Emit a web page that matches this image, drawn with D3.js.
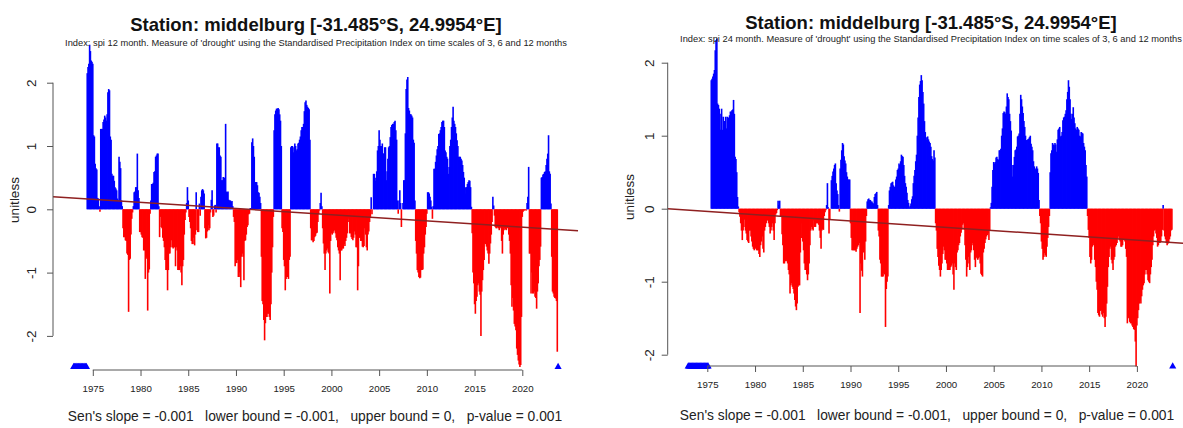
<!DOCTYPE html>
<html>
<head>
<meta charset="utf-8">
<script src="https://cdn.jsdelivr.net/npm/d3@7"></script>
<style>
  body { margin: 0; background: #fff; }
  svg { display: block; font-family: "Liberation Sans", Arial, Helvetica, sans-serif; }
</style>
</head>
<body>
<script>
(function(){
  var canvasWidth = 1183;
  var canvasHeight = 428;

  var stationTitle = "Station: middelburg [-31.485°S, 24.9954°E]";
  var subtitle12 = "Index: spi 12 month. Measure of 'drought' using the Standardised Precipitation Index on time scales of 3, 6 and 12 months";
  var subtitle24 = "Index: spi 24 month. Measure of 'drought' using the Standardised Precipitation Index on time scales of 3, 6 and 12 months";
  var statsText = "Sen's slope = -0.001   lower bound = -0.001,   upper bound = 0,   p-value = 0.001";
  var yLabel = "unitless";

  var xTicks = [1975, 1980, 1985, 1990, 1995, 2000, 2005, 2010, 2015, 2020];
  var yTicks = [-2, -1, 0, 1, 2];

  // monthly SPI-12, first value is June 1974
  var spi12Start = [1974, 6];
  var spi12 = [
    2.15, 2.25, 2.3, 2.6, 2.5, 2.35, 2.33,
    2.3, 1.17, 1.15, 0.72, 0.65, 0.63, 0.18, 0.17, 0.05, -0.04, 1.27, 1.27,
    1.27, 1.38, 1.42, 1.48, 1.45, 1.4, 1.5, 1.85, 1.9, 1.88, 1.15, 1.1,
    0.56, 0.53, 0.53, 0.45, 0.35, 0.33, 0.3, 0.17, 0.14, 0.83, 0.75, 0.65,
    0.14, 0.05, -0.3, -0.44, -0.44, -0.49, -0.5, -0.7, -0.72, -1.62, -0.8, -0.78,
    -0.4, -0.15, -0.05, 0.05, 0.27, 0.28, 0.35, 0.35, 0.88, 0.3, 0.18, -0.36,
    -0.36, -0.4, -0.44, -0.45, -0.65, -0.65, -1.1, -0.75, -0.78, -1.6, -1.0, -0.95,
    -0.07, 0.14, 0.4, 0.4, 0.42, 0.59, 0.6, 0.83, 0.85, 0.88, 0.88, 0.05,
    -0.44, -0.12, -0.28, -0.3, -0.45, -0.5, -0.6, -0.8, -0.96, -0.96, -1.28, -0.96,
    -0.7, -0.7, -0.6, -0.49, -0.6, -0.62, -0.6, -0.6, -0.9, -0.6, -0.65, -0.96,
    -0.96, -0.96, -0.9, -1.0, -1.2, -0.9, -0.8, -0.4, -0.17, -0.05, 0.1, 0.35,
    0.14, -0.12, -0.2, -0.3, -0.5, -0.55, -0.55, -0.45, -0.57, -0.4, 0.27, -0.33,
    -0.36, -0.36, 0.09, -0.1, 0.2, 0.3, 0.32, 0.3, 0.25, -0.3, -0.46, -0.45,
    -0.35, -0.25, -0.33, -0.3, -0.05, 0.15, 0.3, -0.12, -0.1, 0.06, 0.07, -0.05,
    1.04, 1.04, 0.98, 0.98, 0.85, 0.83, 0.46, 0.46, 0.51, 0.5, 0.5, 1.35,
    0.28, 0.27, 0.28, 0.15, 0.14, 0.14, 0.12, 0.13, 0.05, -0.12, -0.2, -0.9,
    -0.85, -0.85, -0.8, -1.07, -1.0, -1.07, -1.23, -0.75, -0.7, -0.75, -1.12, -0.5,
    -0.49, -0.4, -0.28, -0.25, -0.08, -0.07, 0.02, 0.02, 1.06, 1.12, 1.0, 0.83,
    0.43, 0.43, 0.43, 0.38, 0.27, 0.26, 0.2, 0.1, -0.75, -1.45, -1.5, -1.75,
    -2.07, -1.8, -1.7, -1.7, -1.65, -1.65, -1.7, -1.75, -1.5, -1.0, -0.6, -0.12,
    1.25, 1.5, 1.56, 1.59, 1.59, 1.6, 1.58, 1.5, 1.4, 1.0, -0.3, -0.36,
    -0.8, -0.9, -1.28, -1.1, -1.07, -1.07, -1.1, -0.8, -0.75, 0.98, 1.0, 1.0,
    0.9, 0.98, 1.04, 1.0, 0.93, 0.95, 1.04, 1.05, 1.1, 1.15, 1.25, 1.3,
    1.3, 1.35, 1.55, 1.69, 1.72, 1.65, 1.62, 1.6, 1.58, 1.1, -0.3, -0.49,
    -0.49, -0.52, -0.5, -0.44, -0.42, -0.38, -0.37, -0.2, -0.07, -0.02, 0.1, 0.26,
    0.05, -0.3, -0.54, -0.7, -0.96, -0.7, -0.65, -0.62, -0.68, -0.7, -1.33, -0.5,
    -0.38, -0.4, -0.38, -0.35, -0.33, -0.38, -0.45, -0.49, -0.6, -0.65, -0.7, -1.12,
    -0.65, -0.65, -0.62, -0.62, -0.55, -0.58, -0.5, -0.45, -0.38, -0.15, -0.2, -0.38,
    -0.38, -0.44, -0.47, -0.49, -0.45, -0.35, -0.4, -0.6, -0.6, -1.28, -0.9, -0.45,
    -0.45, -0.5, -0.5, -0.59, -0.6, -0.58, -0.3, -0.4, -0.6, -0.65, -0.4, -0.35,
    -0.2, -0.12, 0.19, -0.08, 0.0, 0.56, 0.56, 0.45, 0.5, 0.6, 0.93, 1.0,
    1.25, 1.1, 1.0, 1.0, 1.04, 0.88, 0.88, 0.98, 0.98, 0.46, 0.6, 0.8,
    0.98, 1.0, 1.14, 1.3, 1.33, 1.35, 1.35, 1.38, 1.4, 1.25, 1.1, 0.14,
    -0.07, 0.14, 0.3, 0.1, -0.28, 0.0, 0.1, 0.46, 0.46, 1.2, 1.9, 2.05,
    2.09, 1.6, 1.56, 1.5, 1.5, 1.48, 1.45, 1.1, 1.05, 0.14, -0.5, -0.7,
    -0.96, -1.0, -1.07, -1.09, -1.08, -0.96, -0.96, -0.95, -0.7, -0.6, -0.4, -0.28,
    -0.07, 0.27, 0.27, 0.25, 0.2, 0.14, 0.04, -0.15, 0.05, 0.64, 0.64, 0.75,
    0.85, 0.95, 1.0, 1.19, 1.2, 1.25, 1.3, 1.38, 1.4, 1.4, 1.3, 0.93,
    0.9, 0.83, 0.8, 0.56, 0.67, 1.0, 1.1, 1.3, 1.45, 1.62, 1.4, 1.35,
    1.3, 1.2, 1.09, 1.0, 0.83, 0.83, 0.83, 0.8, 0.77, 0.7, 0.59, 0.5,
    0.25, 0.35, 0.35, 0.4, 0.43, 0.46, 0.45, 0.35, 0.04, -0.38, -1.0, -1.17,
    -1.5, -1.65, -1.45, -1.38, -1.2, -1.17, -1.3, -1.35, -2.0, -1.3, -1.12, -0.96,
    -0.8, -0.54, -0.55, -0.59, -0.65, -0.7, -0.86, -0.7, -0.54, -0.4, -0.2, 0.2,
    0.06, -0.1, -0.28, -0.3, -0.3, -0.28, -0.3, -0.33, -0.3, -0.28, -0.5, -0.7,
    -0.4, -0.33, -0.3, -0.32, -0.33, -0.3, -0.28, -0.4, -0.5, -0.7, -1.2, -1.54,
    -1.4, -1.6, -1.81, -1.85, -1.91, -2.2, -2.3, -2.39, -2.45, -2.49, -2.46, -1.7,
    -0.12, -0.04, -0.02, -0.02, -0.01, -0.02, 0.1, 0.2, 0.67, -0.7, -0.7, -1.33,
    -1.0, -1.33, -1.33, -1.3, -1.38, -1.4, -1.57, -1.3, -1.17, -0.9, -0.8, -0.59,
    0.5, 0.51, 0.55, 0.56, 0.59, 0.6, 0.7, 0.8, 0.88, 1.17, 0.6, 0.56,
    0.09, -0.75, -1.3, -1.33, -1.38, -1.4, -1.41, -1.45, -2.25
  ];
  // months with no value: [first, last] inclusive
  var spi12Missing = [[[1973, 1], [1974, 5]], [[2023, 10], [2023, 10]]];
  // Sen's trend: value at 1975, change per year
  var spi12Trend = [0.158, -0.00976];

  // monthly SPI-24, first value is June 1975
  var spi24Start = [1975, 6];
  var spi24 = [
    1.76, 1.78, 1.81, 1.85, 1.9, 2.17, 2.31,
    2.33, 1.44, 1.42, 1.37, 1.3, 1.08, 1.37, 1.08, 1.26, 1.2, 1.2, 1.26,
    1.1, 1.26, 1.2, 1.25, 1.28, 1.33, 1.33, 1.35, 1.36, 1.49, 1.3, 0.71,
    0.68, 0.5, 0.16, 0.03, -0.05, -0.11, -0.2, -0.3, -0.43, -0.3, -0.25, -0.15,
    -0.3, -0.34, -0.43, -0.45, -0.47, -0.3, -0.3, -0.38, -0.45, -0.52, -0.55, -0.57,
    -0.52, -0.55, -0.57, -0.57, -0.57, -0.62, -0.66, -0.5, -0.45, -0.38, -0.55, -0.6,
    -0.3, -0.25, -0.2, -0.16, -0.16, -0.2, -0.25, -0.34, -0.3, -0.25, -0.2, -0.3,
    -0.43, -0.2, -0.08, -0.06, -0.02, 0.11, 0.05, 0.11, -0.1, -0.11, -0.35, -0.5,
    -0.75, -0.75, -0.72, -0.7, -0.72, -0.75, -0.84, -0.9, -1.16, -1.05, -1.02, -1.07,
    -1.1, -1.16, -1.25, -1.34, -1.39, -1.3, -1.07, -1.05, -1.05, -0.6, -0.4, -0.2,
    -0.45, -0.57, -0.75, -0.84, -0.84, -0.9, -0.98, -0.9, -0.75, -0.5, -0.3, -0.25,
    -0.28, -0.3, -0.16, -0.25, -0.25, -0.2, -0.2, -0.2, -0.22, -0.3, -0.4, -0.55,
    -0.3, -0.28, -0.29, -0.1, -0.05, -0.02, 0.05, 0.35, 0.02, -0.34, -0.15, 0.0,
    0.39, 0.45, 0.51, 0.55, 0.6, 0.62, 0.35, 0.25, 0.2, 0.05, -0.04, 0.55,
    0.67, 0.8, 0.9, 0.88, 0.72, 0.66, 0.62, 0.5, 0.44, 0.4, 0.4, 0.4,
    -0.2, -0.4, -0.57, -0.57, -0.57, -0.57, -0.57, -0.59, -0.55, -0.52, -0.5, -0.47,
    -1.43, -0.75, -0.85, -0.93, -0.6, -0.55, -0.7, -0.45, -0.1, 0.1, 0.13, 0.14,
    0.12, 0.12, 0.1, 0.1, 0.08, 0.07, 0.16, 0.2, 0.21, 0.23, 0.05, -0.3,
    -0.38, -0.7, -0.75, -0.93, -0.93, -0.93, -0.88, -0.9, -1.62, -1.1, -1.0, -0.93,
    0.05, 0.25, 0.3, 0.35, 0.36, 0.37, 0.32, 0.3, 0.3, 0.4, 0.44, 0.53,
    0.55, 0.62, 0.6, 0.65, 0.74, 0.72, 0.71, 0.6, 0.45, 0.35, 0.3, 0.22,
    0.12, 0.08, 0.02, 0.04, 0.07, 0.13, 0.17, 0.35, 0.45, 0.53, 0.65, 0.74,
    1.0, 1.25, 1.53, 1.7, 1.75, 1.83, 1.76, 1.6, 1.44, 1.2, 1.05, 0.94,
    0.98, 0.99, 0.95, 0.92, 0.9, 0.85, 0.72, 0.68, 0.66, 0.8, 0.7, -0.2,
    -0.3, -0.55, -0.66, -0.78, -0.84, -0.93, -0.84, -0.75, -0.62, -0.52, -0.57, -0.7,
    -0.7, -0.75, -0.84, -0.84, -0.84, -0.84, -0.8, -0.78, -0.75, -0.9, -1.11, -0.75,
    -0.8, -0.84, -0.6, -0.57, -0.5, -0.47, -0.38, -0.33, -0.29, -0.22, -0.2, -0.29,
    -0.5, -0.7, -0.93, -0.8, -0.66, -0.75, -0.84, -0.6, -0.57, -0.47, -0.5, -0.57,
    -0.7, -0.8, -0.66, -0.68, -0.7, -0.68, -0.66, -0.75, -0.89, -0.91, -0.93, -0.6,
    -0.55, -0.47, -0.42, -0.38, -0.36, -0.34, -0.43, -0.3, 0.02, 0.08, 0.3, 0.53,
    0.64, 0.62, 0.64, 0.7, 0.71, 0.68, 0.67, 0.8, 0.8, 0.82, 1.0, 1.1,
    1.31, 1.33, 1.32, 1.3, 1.4, 1.58, 1.53, 1.5, 1.3, 1.2, 1.07, 0.6,
    0.44, 0.6, 0.71, 0.8, 0.81, 0.85, 0.99, 1.0, 1.03, 1.3, 1.56, 1.5,
    1.4, 1.31, 1.2, 1.12, 1.0, 0.94, 0.94, 0.95, 0.96, 0.98, 1.0, 0.89,
    0.85, 0.8, 0.65, 0.58, 0.53, 0.55, 0.58, 0.55, 0.49, 0.12, -0.1, -0.2,
    -0.45, -0.55, -0.7, -0.66, -0.61, -0.64, -0.66, -0.52, -0.4, -0.25, -0.1, 0.5,
    0.76, 0.8, 0.9, 0.88, 0.87, 0.9, 0.88, 0.78, 0.95, 1.08, 1.1, 1.12,
    0.99, 1.0, 1.05, 1.21, 1.25, 1.26, 1.3, 1.35, 1.5, 1.6, 1.76, 1.67,
    1.5, 1.3, 1.23, 1.3, 1.39, 1.25, 1.17, 1.1, 1.08, 1.12, 1.1, 1.08,
    1.0, 0.99, 1.05, 1.04, 1.03, 0.9, 0.85, 0.8, 0.6, 0.44, -0.1, -0.29,
    -0.4, -0.66, -0.75, -0.7, -0.52, -0.5, -0.47, -0.7, -0.8, -1.0, -1.11, -1.43,
    -1.46, -1.48, -1.4, -1.39, -1.45, -1.48, -1.43, -1.5, -1.62, -1.48, -1.3, -1.07,
    -0.8, -0.66, -0.55, -0.52, -0.7, -0.75, -0.84, -0.7, -0.66, -0.52, -0.5, -0.47,
    -0.4, -0.38, -0.43, -0.45, -0.52, -0.52, -0.5, -0.43, -0.43, -0.45, -0.55, -0.66,
    -1.57, -1.5, -1.48, -1.55, -1.57, -1.57, -1.6, -1.62, -1.65, -1.66, -1.82, -2.16,
    -1.6, -1.5, -1.39, -1.3, -1.26, -1.3, -1.2, -1.11, -1.05, -1.02, -0.9, -0.84,
    -0.84, -0.9, -0.98, -1.0, -1.02, -0.9, -0.8, -0.7, -0.5, -0.38, -0.3, -0.29,
    -0.34, -0.4, -0.52, -0.5, -0.47, -0.47, -0.45, -0.38, -0.29, 0.05, -0.3, -0.38,
    -0.42, -0.47, -0.5, -0.48, -0.47, -0.42, -0.38, -0.3, -0.29
  ];
  var spi24Missing = [[[1973, 1], [1975, 2]], [[2023, 10], [2023, 10]]];
  var spi24Trend = [-0.036, -0.00878];

  // layout of the two panels (pixels)
  var panels = [
    { values: spi12, start: spi12Start, missing: spi12Missing, trend: spi12Trend, subtitle: subtitle12,
      left: 53, right: 578, x1975: 92.8, x2020: 522.3, yMinus2: 335.9, yPlus2: 82.7, axisY: 370,
      cx: 316, titleY: 31, subY: 46, statsX: 315, statsY: 421, yLabX: 19, yLabY: 200, yTickOff: -17 },
    { values: spi24, start: spi24Start, missing: spi24Missing, trend: spi24Trend, subtitle: subtitle24,
      left: 667.7, right: 1192.7, x1975: 707.3, x2020: 1136.9, yMinus2: 354.7, yPlus2: 62.7, axisY: 366,
      cx: 931, titleY: 28.5, subY: 42, statsX: 927, statsY: 420, yLabX: 634, yLabY: 197, yTickOff: -14 }
  ];

  var svg = d3.select("body").append("svg")
    .attr("width", canvasWidth)
    .attr("height", canvasHeight);

  function toYear(ym) {
    return ym[0] + (ym[1] - 1) / 12;
  }

  panels.forEach(drawPanel);

  function drawPanel(p) {
    var x = d3.scaleLinear().domain([1975, 2020]).range([p.x1975, p.x2020]);
    var y = d3.scaleLinear().domain([-2, 2]).range([p.yMinus2, p.yPlus2]);
    var t0 = toYear(p.start);

    var g = svg.append("g");

    // monthly bars, type = "h"
    g.selectAll("line.bar")
      .data(p.values)
      .join("line")
      .attr("class", "bar")
      .attr("x1", (d, i) => x(t0 + i / 12))
      .attr("x2", (d, i) => x(t0 + i / 12))
      .attr("y1", y(0))
      .attr("y2", d => y(d))
      .attr("stroke", d => d >= 0 ? "#0000ff" : "#ff0000")
      .attr("stroke-width", 1.6);

    // trend line across the whole plot region
    var ta = x.invert(p.left), tb = x.invert(p.right);
    var trendAt = t => p.trend[0] + p.trend[1] * (t - 1975);
    g.append("line")
      .attr("x1", x(ta)).attr("y1", y(trendAt(ta)))
      .attr("x2", x(tb)).attr("y2", y(trendAt(tb)))
      .attr("stroke", "#8f2020")
      .attr("stroke-width", 1.5);

    // missing months marked at the minimum
    var minVal = d3.min(p.values);
    var missingTimes = [];
    p.missing.forEach(function(r) {
      for (var t = toYear(r[0]); t <= toYear(r[1]) + 1e-6; t += 1 / 12) missingTimes.push(t);
    });
    g.selectAll("path.na")
      .data(missingTimes)
      .join("path")
      .attr("class", "na")
      .attr("d", d3.symbol().type(d3.symbolTriangle).size(22))
      .attr("transform", d => "translate(" + x(d) + "," + y(minVal) + ")")
      .attr("fill", "#0000ff");

    // x axis
    var gx = svg.append("g")
      .attr("transform", "translate(0," + p.axisY + ")")
      .call(d3.axisBottom(x).tickValues(xTicks).tickSize(6).tickSizeOuter(0).tickFormat(d3.format("d")));
    gx.select(".domain").remove();
    gx.append("line")
      .attr("x1", x(xTicks[0])).attr("x2", x(xTicks[xTicks.length - 1]))
      .attr("stroke", "#555");
    gx.selectAll(".tick line").attr("stroke", "#555");
    gx.selectAll(".tick text")
      .attr("y", 15)
      .attr("fill", "#222")
      .style("font-size", "9.7px")
      .style("font-family", "'Liberation Sans', Arial, sans-serif");

    // y axis, labels parallel to the axis
    var gy = svg.append("g")
      .attr("transform", "translate(" + p.left + ",0)")
      .call(d3.axisLeft(y).tickValues(yTicks).tickSize(6).tickSizeOuter(0).tickFormat(d => String(d)));
    gy.select(".domain").remove();
    gy.append("line")
      .attr("y1", y(yTicks[0])).attr("y2", y(yTicks[yTicks.length - 1]))
      .attr("stroke", "#555");
    gy.selectAll(".tick line").attr("stroke", "#555");
    gy.selectAll(".tick text")
      .attr("transform", "rotate(-90)")
      .attr("x", 0)
      .attr("y", p.yTickOff)
      .attr("dy", 0)
      .attr("text-anchor", "middle")
      .attr("fill", "#222")
      .style("font-size", "13.5px")
      .style("font-family", "'Liberation Sans', Arial, sans-serif");

    svg.append("text")
      .attr("transform", "translate(" + p.yLabX + "," + p.yLabY + ") rotate(-90)")
      .attr("text-anchor", "middle")
      .attr("fill", "#222")
      .style("font-size", "13.5px")
      .text(yLabel);

    // titles
    svg.append("text")
      .attr("x", p.cx).attr("y", p.titleY)
      .attr("text-anchor", "middle")
      .style("font-size", "18.5px")
      .style("font-weight", "bold")
      .attr("fill", "#111")
      .text(stationTitle);

    svg.append("text")
      .attr("x", p.cx).attr("y", p.subY)
      .attr("text-anchor", "middle")
      .style("font-size", "9.3px")
      .attr("fill", "#222")
      .text(p.subtitle);

    svg.append("text")
      .attr("x", p.statsX).attr("y", p.statsY)
      .attr("text-anchor", "middle")
      .style("font-size", "13.8px")
      .style("white-space", "pre")
      .attr("xml:space", "preserve")
      .attr("fill", "#222")
      .text(statsText);
  }
})();
</script>
</body>
</html>
